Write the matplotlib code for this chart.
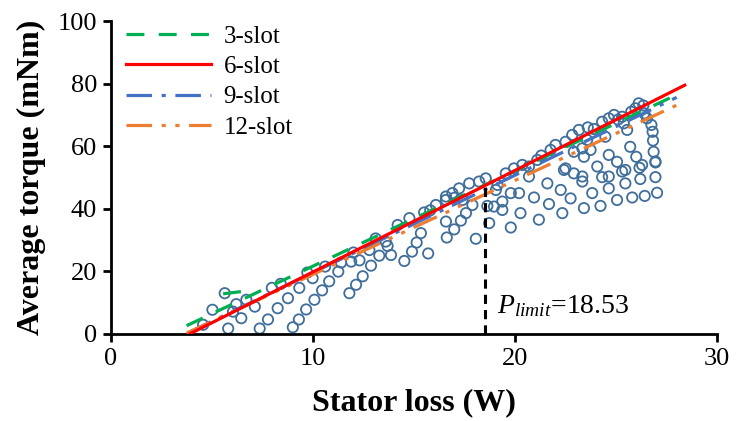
import matplotlib
matplotlib.use("Agg")
import matplotlib.pyplot as plt

plt.rcParams['font.family'] = ['Liberation Serif', 'DejaVu Serif']
plt.rcParams['mathtext.fontset'] = 'custom'
plt.rcParams['mathtext.rm'] = 'Liberation Serif'
plt.rcParams['mathtext.it'] = 'Liberation Serif:italic'

# Simulated operating points: stator loss (W) vs average torque (mNm)
loss_pts = [
    4.56, 5.02, 5.63, 5.80, 6.04, 6.45, 6.70, 7.12, 7.36, 7.77, 7.96, 8.25, 8.76,
    9.00, 9.30, 9.32, 9.66, 9.72, 9.98, 10.07, 10.45, 10.80, 11.25, 11.39, 11.80,
    11.89, 12.30, 12.13, 12.46, 12.87, 13.28, 13.69, 13.86, 12.79, 14.52, 14.90,
    15.13, 15.34, 15.70, 14.19, 14.77, 15.50, 16.08, 16.58, 16.58, 16.62, 13.60,
    16.99, 17.32, 17.57, 17.89, 17.40, 18.06, 16.90, 17.23, 17.73, 18.22, 18.55,
    19.05, 19.54, 19.95, 20.36, 16.58, 18.96, 19.37, 19.79, 20.20, 19.37, 20.27,
    19.13, 18.72, 18.63, 19.79, 20.94, 21.18, 21.60, 21.68, 22.26, 22.34, 22.75,
    22.42, 22.91, 21.10, 21.76, 22.00, 20.69, 20.69, 21.30,
    23.33, 23.41, 23.74, 23.82, 24.07, 24.31, 24.23, 24.64, 24.64, 25.05, 25.05,
    25.30, 25.46, 25.80, 25.70, 26.00, 26.16, 26.20, 26.42, 26.53, 26.75, 26.81,
    26.83, 26.86, 26.95, 26.95, 27.03, 26.12, 25.96, 25.38, 25.55, 25.30, 24.64,
    24.31, 23.16, 22.83, 22.50, 23.57, 23.33, 23.41, 22.91, 24.47, 23.33, 24.64,
    25.46, 26.29, 26.95, 22.50, 23.90, 24.90, 25.10, 26.35, 26.40, 25.75, 23.60,
    8.40, 10.60, 12.00, 13.10, 15.80, 17.00, 6.20,
]
torque_pts = [
    2.9, 7.7, 13.0, 1.7, 7.1, 5.0, 10.9, 8.7, 1.7, 4.6, 14.7, 8.2, 11.4,
    2.1, 4.6, 14.7, 7.8, 19.6, 17.8, 10.9, 13.9, 16.8, 19.9, 22.8, 13.0,
    23.1, 23.5, 15.7, 18.4, 21.8, 25.0, 28.1, 25.2, 26.8, 23.3, 26.3,
    29.2, 32.2, 25.7, 34.8, 37.0, 38.8, 41.2, 42.8, 35.9, 30.8, 29.5,
    33.4, 36.2, 38.6, 41.2, 42.8, 30.4, 45.0, 46.5, 48.1, 48.7, 49.7,
    46.0, 51.3, 52.9, 54.0, 43.9, 40.7, 42.3, 45.0, 45.0, 39.6, 38.6,
    47.6, 35.4, 40.9, 34.0, 43.6, 36.5, 48.1, 41.5, 46.0, 38.6, 43.3,
    52.4, 51.3, 55.6, 58.8, 60.4, 53.5, 50.3, 57.0,
    48.7, 40.2, 58.8, 45.0, 53.5, 50.1, 40.9, 46.5, 57.2, 55.0, 42.8,
    51.9, 48.1, 43.6, 59.8, 56.6, 53.1, 49.5, 44.1, 68.9, 66.8, 64.6,
    61.8, 58.2, 54.8, 50.1, 45.1, 73.7, 72.1, 67.3, 65.2, 69.4, 68.9,
    67.8, 65.2, 63.6, 61.4, 62.0, 59.3, 56.6, 58.2, 63.0, 50.3, 50.3,
    52.4, 54.0, 55.1, 52.9, 65.5, 70.0, 68.5, 73.0, 70.5, 71.0, 66.0,
    16.0, 21.5, 26.0, 30.5, 39.5, 43.5, 9.5,
]

# Linear trends for each slot number (end points)
labels = ['3-slot', '6-slot', '9-slot', '12-slot']
trend_x = [[3.74, 28.25], [3.90, 28.40], [3.80, 28.00], [3.74, 28.40]]
trend_y = [[2.6, 77.2], [0.0, 79.5], [0.3, 75.6], [0.2, 74.3]]
# short 3-slot segment at the low-loss end
seg3_x = [5.55, 6.80]
seg3_y = [12.8, 13.8]

p_limit = 18.53
p_limit_torque = 49.0

colors = ['#00B050', '#FF0000', '#4472C4', '#ED7D31']
styles = [(0, (5.6, 4.5)), '-', (0, (8, 3, 1.3, 3)), (0, (8, 3, 1.3, 3, 1.3, 3))]

fig = plt.figure(figsize=(7.4, 4.21), dpi=100)
ax = fig.add_axes([0.150, 0.207, 0.819, 0.743])

ax.scatter(loss_pts, torque_pts, s=55, facecolors='none', edgecolors='#3F6E9A',
           linewidths=1.3, zorder=2)

handles = {}
for i in [0, 2, 3, 1]:
    ln, = ax.plot(trend_x[i], trend_y[i], color=colors[i], linestyle=styles[i],
                  lw=2.3, zorder=3 + (i == 1))
    handles[i] = ln
ax.plot(seg3_x, seg3_y, color=colors[0], linestyle=styles[0], lw=2.3, zorder=3)

ax.plot([p_limit, p_limit], [0, p_limit_torque], color='black',
        linestyle=(0, (3, 2)), lw=2.2, zorder=5)
ax.text(19.1, 6.5, r'$P_{limit}$=18.53', fontsize=20, ha='left', va='baseline')

ax.set_xlim(0, 30)
ax.set_ylim(0, 100)
ax.set_xticks([0, 10, 20, 30])
ax.set_yticks([0, 20, 40, 60, 80, 100])
for s in ['top', 'right']:
    ax.spines[s].set_visible(False)
for s in ['left', 'bottom']:
    ax.spines[s].set_linewidth(2)
ax.tick_params(direction='out', length=6, width=2, labelsize=19, pad=4)

ax.set_xlabel('Stator loss (W)', fontsize=23, fontweight='bold', labelpad=13)
ax.set_ylabel('Average torque (mNm)', fontsize=23, fontweight='bold', labelpad=8.5)

leg = ax.legend([handles[i] for i in range(4)], labels, loc='upper left',
                bbox_to_anchor=(-0.012, 1.058), frameon=False, fontsize=18,
                handlelength=3.4, handletextpad=0.5, labelspacing=0.31)

fig.savefig('out.png', dpi=100)
